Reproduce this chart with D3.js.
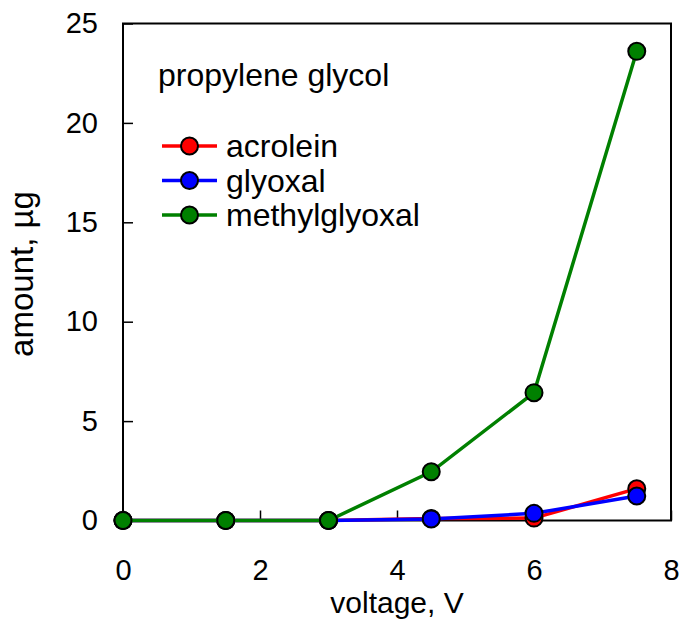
<!DOCTYPE html>
<html>
<head>
<meta charset="utf-8">
<script src="https://cdn.jsdelivr.net/npm/d3@7"></script>
<style>
  body { margin: 0; background: #fff; }
  text { font-family: "Liberation Sans", Arial, sans-serif; fill: #000; }
</style>
</head>
<body>
<div id="chart"></div>
<script>
const voltage = [0, 1.5, 3, 4.5, 6, 7.5];
const acrolein = [0, 0, 0, 0.1, 0.12, 1.6];
const glyoxal = [0, 0, 0, 0.08, 0.36, 1.23];
const methylglyoxal = [0, 0, 0, 2.45, 6.43, 23.6];
const seriesNames = ['acrolein', 'glyoxal', 'methylglyoxal'];
const seriesColors = ['#ff0000', '#0000ff', '#008000'];
const xTicks = [0, 2, 4, 6, 8];
const yTicks = [0, 5, 10, 15, 20, 25];
const legendTitle = 'propylene glycol';

const W = 681, H = 620;
const plot = { left: 123, right: 671, top: 23.5, bottom: 520.5 };

const svg = d3.select('#chart').append('svg')
    .attr('width', W)
    .attr('height', H);

const x = d3.scaleLinear().domain([0, 8]).range([plot.left, plot.right]);
const y = d3.scaleLinear().domain([0, 25]).range([plot.bottom, plot.top]);

// axes, ticks pointing inward
let gX = svg.append('g')
    .attr('transform', 'translate(0,' + plot.bottom + ')')
    .call(d3.axisBottom(x).tickValues(xTicks).tickSize(-10).tickPadding(39).tickFormat(d3.format('d')));
let gY = svg.append('g')
    .attr('transform', 'translate(' + plot.left + ',0)')
    .call(d3.axisLeft(y).tickValues(yTicks).tickSize(-10).tickPadding(25).tickFormat(d3.format('d')));

[gX, gY].forEach(g => {
    g.select('.domain').remove();
    g.selectAll('.tick line').attr('stroke', '#000').attr('stroke-width', 1.5);
    g.selectAll('.tick text').style('font-size', '29px').attr('fill', '#000');
});

svg.append('rect')
    .attr('x', plot.left)
    .attr('y', plot.top)
    .attr('width', plot.right - plot.left)
    .attr('height', plot.bottom - plot.top)
    .attr('fill', 'none')
    .attr('stroke', '#000')
    .attr('stroke-width', 2);

// axis titles
svg.append('text')
    .attr('x', 397)
    .attr('y', 613)
    .attr('text-anchor', 'middle')
    .style('font-size', '30px')
    .text('voltage, V');

svg.append('text')
    .attr('transform', 'translate(33,274) rotate(-90)')
    .attr('text-anchor', 'middle')
    .style('font-size', '33px')
    .text('amount, µg');

// series
const seriesData = [acrolein, glyoxal, methylglyoxal];
const line = d3.line()
    .x(d => x(d.v))
    .y(d => y(d.a));

seriesData.forEach((vals, i) => {
    let pts = voltage.map((v, j) => ({ v: v, a: vals[j] }));
    svg.append('path')
        .datum(pts)
        .attr('d', line)
        .attr('fill', 'none')
        .attr('stroke', seriesColors[i])
        .attr('stroke-width', 3.5);
    svg.append('g').selectAll('circle')
        .data(pts)
        .join('circle')
        .attr('cx', d => x(d.v))
        .attr('cy', d => y(d.a))
        .attr('r', 8.5)
        .attr('fill', seriesColors[i])
        .attr('stroke', '#000')
        .attr('stroke-width', 2);
});

// legend
svg.append('text')
    .attr('x', 158)
    .attr('y', 86)
    .style('font-size', '32px')
    .text(legendTitle);

let legend = svg.append('g');
seriesNames.forEach((name, i) => {
    let cy = 146 + i * 34.5;
    legend.append('line')
        .attr('x1', 162).attr('x2', 217)
        .attr('y1', cy).attr('y2', cy)
        .attr('stroke', seriesColors[i])
        .attr('stroke-width', 3.5);
    legend.append('circle')
        .attr('cx', 189.5).attr('cy', cy).attr('r', 8.5)
        .attr('fill', seriesColors[i])
        .attr('stroke', '#000')
        .attr('stroke-width', 2);
    legend.append('text')
        .attr('x', 226)
        .attr('y', cy)
        .attr('dy', '0.35em')
        .style('font-size', '32px')
        .text(name);
});
</script>
</body>
</html>
